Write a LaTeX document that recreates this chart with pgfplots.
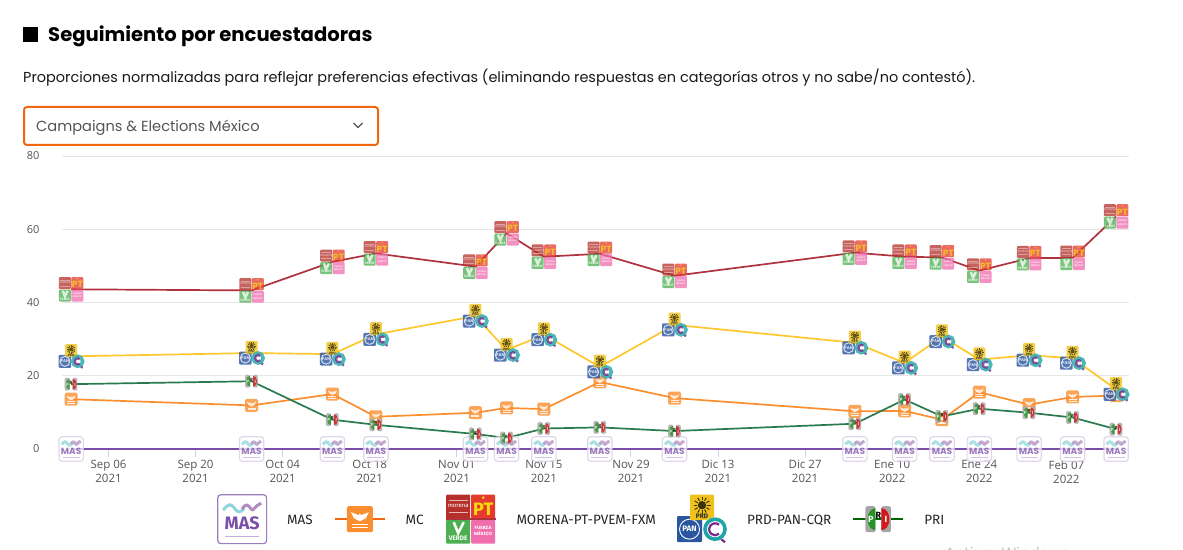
\documentclass[border=0pt]{standalone}
\usepackage{fontspec}
\setmainfont{Poppins}
\newfontfamily\tickfont{Open Sans}
\newfontfamily\legfont{Fira Sans}
\usepackage{pgfplots}
\usepackage{pgfplotstable}
\pgfplotsset{compat=1.18}

\definecolor{masc}{HTML}{7B4FA8}
\definecolor{mcc}{HTML}{FB8F2F}
\definecolor{morc}{HTML}{B0323F}
\definecolor{prdc}{HTML}{FFC72E}
\definecolor{pric}{HTML}{2A7A4F}
\definecolor{orangebox}{HTML}{F0670F}
\definecolor{gridc}{HTML}{E6E6E6}
\definecolor{tickc}{HTML}{C5D3E8}
\definecolor{txtc}{HTML}{555555}
\definecolor{icored}{HTML}{B5302A}
\definecolor{icopt}{HTML}{E53A2F}
\definecolor{icogreen}{HTML}{4CAF50}
\definecolor{icopink}{HTML}{F06EAE}
\definecolor{icoyellow}{HTML}{F0C31C}
\definecolor{icoblue}{HTML}{2A55A0}
\definecolor{icoteal}{HTML}{1FA5A8}
\definecolor{icopurple}{HTML}{7A2A8A}
\definecolor{waveteal}{HTML}{8ED6DC}
\definecolor{wavepurple}{HTML}{B08CC0}

% days counted from Sep 06 2021
\pgfplotstableread{
day mas mc morena prd pri
-6  0 13.6 43.6 25.3 17.7
23  0 11.9 43.3 26.2 18.5
36  0 15.0 51.1 25.9 8.0
43  0 8.8  53.4 31.3 6.6
59  0 9.9  49.8 36.3 4.1
64  0 11.2 58.9 27.0 3.0
70  0 10.9 52.5 31.2 5.6
79  0 18.3 53.3 22.4 5.9
91  0 13.9 47.3 33.9 4.9
120 0 10.3 53.6 29.0 6.9
128 0 10.4 52.5 23.5 13.5
134 0 8.0  52.3 30.7 8.9
140 0 15.5 48.7 24.4 11.0
148 0 12.1 52.1 25.6 9.9
155 0 14.2 52.2 24.8 8.6
162 0 14.6 63.5 16.3 5.4
}\polls

\tikzset{ico/.style={inner sep=0pt,anchor=center,draw=none,fill=none},icofill/.style={draw=none}}
\def\masedge{masc!75}
% party icons, drawn in a 50pt box around the origin
\newcommand\drawMas{%
  \fill[white,draw=\masedge,line width=1.2pt,rounded corners=3pt] (-24.4pt,-24.4pt) rectangle (24.4pt,24.4pt);
  \draw[color=waveteal,line width=3pt] (-19pt,9pt) .. controls (-14pt,16pt) and (-11pt,16pt) .. (-7pt,10pt) .. controls (-4pt,6pt) and (-1pt,7pt) .. (2pt,11pt);
  \draw[color=wavepurple,line width=3pt] (0pt,10pt) .. controls (3pt,16pt) and (6pt,15pt) .. (9pt,10pt) .. controls (11pt,7pt) and (13pt,14pt) .. (19pt,16pt);
  \node[ico,text=masc] at (0pt,-5pt) {\fontsize{18}{18}\selectfont\bfseries MAS};
  \fill[icofill,masc!45] (-17pt,-18pt) rectangle (17pt,-16.5pt);
}
\newcommand\drawMc{%
  \fill[icofill,mcc,rounded corners=1.5pt] (-13pt,-13pt) rectangle (13pt,13pt);
  \fill[icofill,white] (-9pt,7pt) -- (-1pt,4pt) -- (0pt,6pt) -- (1pt,4pt) -- (9pt,7pt) -- (6pt,1pt) -- (0pt,-2pt) -- (-6pt,1pt) -- cycle;
  \fill[icofill,white] (-8pt,-5.5pt) rectangle (8pt,-4.3pt);
  \fill[icofill,white] (-8pt,-8.5pt) rectangle (8pt,-7.3pt);
}
\newcommand\drawMorena{%
  \fill[icofill,icored,rounded corners=1pt] (-24.5pt,0.5pt) rectangle (-0.5pt,24.5pt);
  \fill[icofill,icopt,rounded corners=1pt] (0.5pt,0.5pt) rectangle (24.5pt,24.5pt);
  \fill[icofill,icogreen,rounded corners=1pt] (-24.5pt,-24.5pt) rectangle (-0.5pt,-0.5pt);
  \fill[icofill,icopink,rounded corners=1pt] (0.5pt,-24.5pt) rectangle (24.5pt,-0.5pt);
  \node[ico,text=white] at (-12.5pt,13pt) {\fontsize{6}{6}\selectfont morena};
  \fill[icofill,white!65!icored] (-22pt,6pt) rectangle (-3pt,7.5pt);
  \fill[icofill,white!65!icored] (-22pt,18pt) rectangle (-3pt,19.5pt);
  \node[ico,text=icoyellow!60!yellow] at (12.5pt,9pt) {\fontsize{18}{18}\selectfont\bfseries PT};
  \fill[icofill,icoyellow!60!yellow] (12.5pt,21.5pt) circle (1.5pt);
  \draw[white,line width=2.5pt] (-17pt,-3pt) -- (-12.5pt,-14pt) -- (-7pt,-3pt);
  \node[ico,text=white] at (-12.5pt,-20pt) {\fontsize{6.5}{6.5}\selectfont\bfseries VERDE};
  \node[ico,text=white,align=center,font=\fontsize{4.5}{6.5}\selectfont\bfseries] at (12.5pt,-12.5pt) {FUERZA\\MÉXICO};
}
\newcommand\drawPrd{%
  \fill[icofill,icoblue,rounded corners=1pt] (-25pt,-23pt) rectangle (0pt,3pt);
  \draw[white,line width=0.9pt] (-12.5pt,-10pt) circle (10pt);
  \node[ico,text=white] at (-12.5pt,-10pt) {\fontsize{8}{8}\selectfont\bfseries PAN};
  \fill[icofill,icoyellow,rounded corners=1pt] (-12pt,-1pt) rectangle (12pt,24.5pt);
  \fill[icofill,black!75!icoyellow] (0pt,14pt) circle (4.2pt);
  \foreach \a in {0,30,...,330}{\draw[black!75!icoyellow,line width=1pt] (0pt,14pt) ++(\a:5pt) -- ++(\a:3.5pt);}
  \node[ico,text=black!85] at (0pt,2.5pt) {\fontsize{6.5}{6.5}\selectfont\bfseries PRD};
  \draw[icopurple,line width=2.2pt] (18pt,-19pt) -- (23pt,-23pt);
  \fill[icofill,white] (13pt,-10pt) circle (12pt);
  \draw[icoteal,line width=3.6pt] (13pt,-10pt) circle (10pt);
  \draw[icopurple,line width=2.2pt] (17pt,-5.5pt) arc (50:310:6pt);
}
\newcommand\drawPri{%
  \fill[icofill,black!35,rounded corners=2pt] (-13pt,-13pt) rectangle (-3pt,13pt);
  \fill[icofill,black!35,rounded corners=2pt] (3pt,-13pt) rectangle (12.5pt,13pt);
  \fill[icofill,green!50!black!85] (-3pt,11pt) arc (90:270:8pt and 11pt) -- cycle;
  \fill[icofill,red!80!black!90] (3pt,11pt) arc (90:-90:8pt and 11pt) -- cycle;
  \node[ico,text=white] at (-7.5pt,-1pt) {\fontsize{9}{9}\selectfont\bfseries P};
  \node[ico,text=white] at (7.5pt,-1pt) {\fontsize{9}{9}\selectfont\bfseries I};
  \node[ico,text=black] at (0pt,3pt) {\fontsize{9}{9}\selectfont\bfseries R};
}
\pgfdeclareplotmark{mas}{\begin{scope}[opacity=.75,transform shape]\pgftransformscale{.5}\def\masedge{masc!30}\drawMas\end{scope}}
\pgfdeclareplotmark{mc}{\begin{scope}[opacity=.8,transform shape]\pgftransformscale{.5}\drawMc\end{scope}}
\pgfdeclareplotmark{morena}{\begin{scope}[opacity=.75,transform shape]\pgftransformscale{.5}\drawMorena\end{scope}}
\pgfdeclareplotmark{prd}{\begin{scope}[opacity=.8,transform shape]\pgftransformscale{.5}\drawPrd\end{scope}}
\pgfdeclareplotmark{pri}{\begin{scope}[opacity=.8,transform shape]\pgftransformscale{.5}\drawPri\end{scope}}
\newcommand\legbox{\path[draw=none,fill=none] (-25pt,-25pt) rectangle (25pt,25pt);}

\begin{document}
\begin{tikzpicture}
\path[use as bounding box,fill=white] (0pt,0pt) rectangle (1183pt,549pt);
% page header
\fill[black] (23pt,507pt) rectangle (38pt,522pt);
\node[anchor=base west,inner sep=0pt] at (48pt,507pt) {\fontsize{19.6}{20}\selectfont\bfseries Seguimiento por encuestadoras};
\node[anchor=base west,inner sep=0pt,text=black!90] at (23pt,466pt) {\fontsize{14.45}{15}\selectfont Proporciones normalizadas para reflejar preferencias efectivas (eliminando respuestas en categorías otros y no sabe/no contestó).};
\draw[orangebox,line width=2pt,rounded corners=3pt] (24pt,404pt) rectangle (378pt,442pt);
\node[anchor=base west,inner sep=0pt,text=txtc] at (36pt,417pt) {\fontsize{14.6}{15}\selectfont Campaigns \& Elections México};
\draw[txtc,line width=1.4pt] (353.5pt,426pt) -- (358pt,421.5pt) -- (362.5pt,426pt);
\node[anchor=base west,inner sep=0pt,text=black!22] at (945pt,-9pt) {\fontsize{15}{15}\selectfont Activar Windows};

\begin{axis}[
    at={(62pt,100pt)},
    anchor=south west,
    width=1067pt,
    height=293pt,
    scale only axis,
    clip=false,
    xmin=-7.476, xmax=164.07,
    ymin=0, ymax=80,
    axis line style={draw=none},
    ytick={0,20,40,60,80},
    ymajorgrids,
    grid style={gridc,line width=1pt},
    ytick style={draw=none},
    yticklabel style={font=\tickfont\fontsize{11}{12}\selectfont,text=txtc,/pgf/number format/assume math mode=true,xshift=-11pt},
    xtick={0,14,28,42,56,70,84,98,112,126,140,154},
    xticklabels={{Sep 06\\2021},{Sep 20\\2021},{Oct 04\\2021},{Oct 18\\2021},{Nov 01\\2021},{Nov 15\\2021},{Nov 29\\2021},{Dic 13\\2021},{Dic 27\\2021},{Ene 10\\2022},{Ene 24\\2022},{Feb 07\\2022}},
    xticklabel style={font=\tickfont\fontsize{11.5}{14}\selectfont,text=txtc,align=center},
    xtick pos=bottom,
    tick align=outside,
    major tick length=8pt,
    xtick style={tickc,line width=1pt},
    legend columns=5,
    legend cell align=left,
    legend style={
        at={(axis description cs:0.1453,-0.1536)},
        anchor=north west,
        draw=none, fill=none, inner sep=0pt,
        font=\legfont\fontsize{13.5}{14}\selectfont,
        text=black!85,
        nodes={inner sep=0pt},
        /tikz/every odd column/.append style={column sep=20pt},
        /tikz/every even column/.append style={column sep=21.2pt},
    },
]
\addplot[masc,line width=1.5pt,mark=mas,
    legend image code/.code={\begin{scope}[yshift=1pt]\legbox\drawMas\end{scope}}]
    table[x=day,y=mas] {\polls};
\addlegendentry{MAS}
\addplot[mcc,line width=1.7pt,mark=mc,
    legend image code/.code={\begin{scope}[yshift=1pt]\legbox\draw[orangebox,line width=1.7pt] (-25pt,0pt) -- (25pt,0pt);\drawMc\end{scope}}]
    table[x=day,y=mc] {\polls};
\addlegendentry{MC}
\addplot[morc,line width=1.7pt,mark=morena,
    legend image code/.code={\begin{scope}[yshift=1pt]\legbox\drawMorena\draw[morc,line width=1.7pt] (-25pt,0pt) -- (25pt,0pt);\end{scope}}]
    table[x=day,y=morena] {\polls};
\addlegendentry{MORENA-PT-PVEM-FXM}
\addplot[prdc,line width=1.7pt,mark=prd,
    legend image code/.code={\begin{scope}[yshift=1pt]\legbox\drawPrd\end{scope}}]
    table[x=day,y=prd] {\polls};
\addlegendentry{PRD-PAN-CQR}
\addplot[pric,line width=1.7pt,mark=pri,
    legend image code/.code={\begin{scope}[yshift=1pt]\legbox\draw[green!40!black,line width=1.7pt] (-25pt,0pt) -- (25pt,0pt);\drawPri\end{scope}}]
    table[x=day,y=pri] {\polls};
\addlegendentry{PRI}
\end{axis}
\end{tikzpicture}
\end{document}
